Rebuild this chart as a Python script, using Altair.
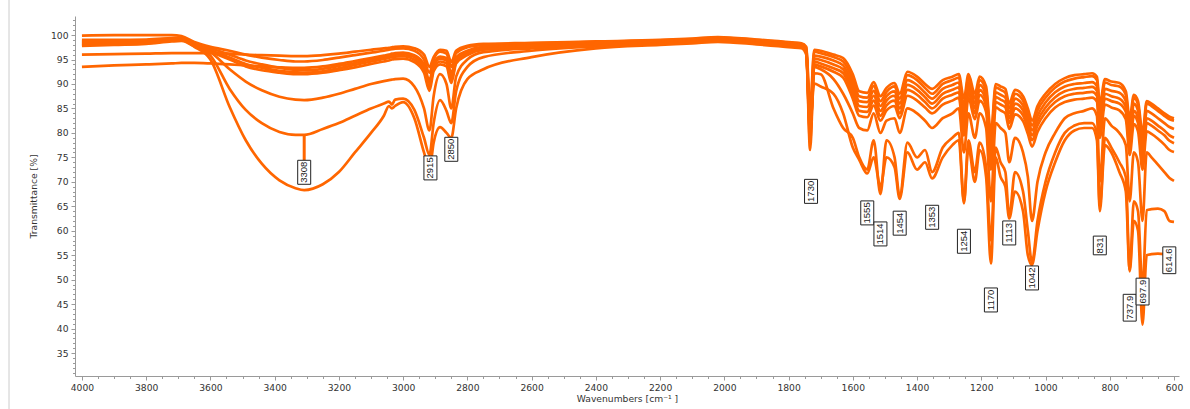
import altair as alt
import pandas as pd

# Wavenumber grid shared by all spectra (cm-1)
wn = [4000, 3900, 3800, 3720, 3690, 3650, 3600, 3540, 3490, 3440,
      3385, 3335, 3308, 3250, 3200, 3150, 3100, 3060, 3044, 3035,
      3025, 3000, 2965, 2935, 2918, 2905, 2885, 2865, 2850, 2835,
      2800, 2750, 2600, 2400, 2200, 2100, 2020, 1900, 1790, 1760,
      1745, 1733, 1720, 1700, 1660, 1630, 1600, 1580, 1555, 1535,
      1514, 1495, 1470, 1454, 1430, 1400, 1375, 1353, 1320, 1290,
      1270, 1254, 1240, 1220, 1205, 1185, 1170, 1155, 1140, 1125,
      1113, 1095, 1070, 1055, 1042, 1025, 1000, 970, 940, 910,
      880, 855, 840, 831, 815, 795, 770, 750, 738, 725,
      712, 698, 685, 670, 650, 630, 614, 600]

s1 = [96.0, 96.1, 96.2, 96.3, 96.3, 96.3, 96.3, 96.2, 96.0, 95.9,
      95.8, 95.7, 95.7, 95.9, 96.2, 96.6, 97.0, 97.3, 97.4, 97.5,
      97.6, 97.7, 97.3, 96.0, 93.5, 95.5, 97.0, 96.8, 94.5, 96.8,
      97.8, 98.2, 98.4, 98.7, 99.0, 99.3, 99.6, 99.1, 98.5, 98.3,
      97.6, 85.0, 97.0, 96.8, 96.0, 95.3, 92.0, 88.5, 88.2, 90.4,
      87.5, 89.2, 90.2, 88.0, 92.5, 91.5, 90.0, 89.0, 90.8, 91.5,
      92.0, 87.0, 92.0, 88.0, 91.5, 89.5, 80.0, 90.0, 89.5, 89.0,
      86.0, 88.8, 87.5, 85.0, 82.5, 85.5, 88.0, 90.0, 91.2, 91.8,
      92.0, 92.2, 91.5, 86.0, 91.0, 90.5, 90.2, 88.5, 83.0, 87.8,
      86.5, 80.0, 86.5, 86.0, 85.0, 84.0, 83.3, 83.0]

s2 = [99.9, 100.0, 100.0, 100.0, 99.8, 98.6, 97.6, 96.8, 96.0, 95.4,
      94.9, 94.6, 94.6, 94.9, 95.4, 95.9, 96.4, 96.8, 97.0, 97.1,
      97.2, 97.3, 96.8, 95.0, 92.3, 95.0, 96.6, 96.2, 93.5, 96.3,
      97.5, 98.0, 98.3, 98.6, 98.9, 99.2, 99.5, 99.0, 98.4, 98.2,
      97.4, 83.0, 96.6, 96.3, 95.5, 94.6, 91.0, 87.5, 87.2, 89.6,
      86.5, 88.4, 89.5, 87.0, 91.8, 90.8, 89.2, 88.0, 90.0, 90.8,
      91.3, 85.5, 91.3, 87.0, 90.8, 88.6, 78.5, 89.3, 88.8, 88.2,
      85.0, 88.0, 86.6, 84.0, 81.5, 84.6, 87.2, 89.3, 90.5, 91.1,
      91.4, 91.6, 90.8, 84.5, 90.3, 89.8, 89.5, 87.8, 81.5, 87.2,
      85.8, 78.5, 86.0, 85.5, 84.5, 83.5, 82.8, 82.5]

s3 = [93.5, 93.8, 94.0, 94.2, 94.3, 94.3, 94.2, 94.0, 93.8, 93.6,
      93.4, 93.3, 93.3, 93.6, 94.1, 94.7, 95.3, 95.8, 96.0, 96.2,
      96.3, 96.4, 95.9, 94.0, 90.8, 94.2, 95.6, 95.3, 92.2, 95.5,
      96.8, 97.6, 98.0, 98.4, 98.7, 99.0, 99.3, 98.8, 98.2, 98.0,
      97.0, 81.0, 95.8, 95.6, 94.8, 93.8, 90.0, 86.5, 86.3, 88.6,
      85.5, 87.5, 88.5, 86.0, 90.8, 89.8, 88.2, 87.0, 89.0, 89.8,
      90.3, 84.0, 90.3, 86.0, 89.8, 87.5, 77.0, 88.3, 87.8, 87.2,
      84.0, 87.0, 85.6, 83.0, 80.5, 83.5, 86.2, 88.3, 89.5, 90.0,
      90.2, 90.4, 89.6, 83.0, 89.0, 88.6, 88.2, 86.5, 80.0, 86.0,
      84.5, 77.0, 84.5, 84.0, 83.0, 82.0, 81.2, 80.8]

s4 = [99.0, 99.0, 99.1, 99.4, 99.5, 98.3, 97.3, 96.0, 94.8, 94.0,
      93.3, 92.9, 92.8, 93.1, 93.7, 94.3, 95.0, 95.5, 95.7, 95.9,
      96.0, 96.1, 95.5, 93.5, 90.2, 93.8, 95.2, 94.8, 91.5, 95.0,
      96.5, 97.4, 97.9, 98.3, 98.6, 98.9, 99.2, 98.7, 98.1, 97.9,
      96.8, 79.5, 95.2, 94.9, 94.0, 93.0, 89.0, 85.5, 85.3, 87.6,
      84.5, 86.6, 87.6, 85.0, 89.8, 88.8, 87.3, 86.0, 88.0, 88.8,
      89.3, 82.5, 89.3, 85.0, 88.8, 86.5, 75.5, 87.3, 86.8, 86.2,
      83.0, 86.0, 84.6, 82.0, 79.5, 82.5, 85.2, 87.3, 88.5, 89.0,
      89.2, 89.4, 88.6, 82.0, 88.0, 87.5, 87.0, 85.3, 78.5, 84.5,
      83.0, 75.5, 83.0, 82.5, 81.5, 80.5, 79.5, 79.0]

s5 = [98.5, 98.6, 98.7, 99.1, 99.2, 98.0, 96.9, 95.4, 94.1, 93.3,
      92.7, 92.4, 92.3, 92.6, 93.2, 93.9, 94.6, 95.1, 95.3, 95.5,
      95.6, 95.7, 95.0, 92.8, 89.4, 93.2, 94.6, 94.2, 90.8, 94.6,
      96.2, 97.2, 97.7, 98.2, 98.5, 98.8, 99.1, 98.6, 98.0, 97.8,
      96.6, 78.0, 94.6, 94.2, 93.2, 92.2, 88.0, 84.5, 84.3, 86.6,
      83.5, 85.6, 86.6, 84.0, 88.8, 87.8, 86.3, 85.0, 87.0, 87.8,
      88.3, 81.0, 88.3, 84.0, 87.8, 85.5, 74.0, 86.3, 85.8, 85.2,
      82.0, 85.0, 83.6, 81.0, 78.5, 81.5, 84.2, 86.3, 87.5, 88.0,
      88.2, 88.4, 87.6, 80.5, 87.0, 86.5, 86.0, 84.3, 77.0, 83.5,
      82.0, 74.0, 82.0, 81.5, 80.5, 79.5, 78.4, 77.9]

s6 = [98.0, 98.1, 98.3, 98.9, 99.0, 97.8, 96.6, 95.0, 93.6, 92.8,
      92.3, 92.0, 92.0, 92.3, 92.8, 93.4, 94.1, 94.6, 94.8, 95.0,
      95.1, 95.2, 94.5, 92.3, 88.6, 92.6, 94.0, 93.6, 90.2, 94.2,
      95.9, 97.0, 97.5, 98.0, 98.4, 98.7, 99.0, 98.5, 97.9, 97.7,
      96.4, 76.5, 94.0, 93.6, 92.5, 91.3, 87.0, 83.5, 83.2, 85.6,
      82.5, 84.6, 85.5, 83.0, 87.6, 86.6, 85.2, 84.0, 85.8, 86.6,
      87.2, 79.5, 87.2, 82.8, 86.6, 84.3, 72.5, 85.2, 84.6, 84.0,
      80.8, 83.8, 82.4, 79.8, 77.2, 80.2, 83.0, 85.2, 86.3, 86.8,
      87.0, 87.2, 86.4, 79.0, 85.8, 85.2, 84.6, 82.8, 75.5, 81.8,
      80.3, 72.5, 80.3, 79.8, 78.8, 77.6, 76.5, 76.1]

s7 = [98.7, 98.8, 98.9, 99.3, 99.4, 98.0, 96.5, 93.0, 90.5, 88.7,
      87.4, 86.8, 86.7, 87.2, 88.0, 89.0, 90.0, 90.6, 90.8, 90.9,
      91.0, 91.1, 89.5, 85.0, 80.5, 87.5, 92.0, 90.0, 85.0, 91.5,
      95.0, 96.5, 97.3, 97.9, 98.3, 98.6, 98.9, 98.4, 97.9, 97.7,
      96.5, 80.0, 93.5, 93.0, 91.0, 88.0, 84.0, 81.0, 80.5, 84.0,
      80.0, 82.5, 83.0, 80.0, 85.0, 84.0, 82.5, 81.0, 83.0, 84.0,
      85.0, 76.0, 84.0, 79.0, 84.0, 81.0, 66.0, 82.0, 81.0, 80.0,
      74.0, 79.0, 76.0, 71.0, 62.0, 70.0, 76.0, 80.0, 83.0, 84.0,
      84.5, 85.0, 83.5, 70.0, 83.0, 81.5, 80.0, 77.5, 66.0, 76.0,
      74.0, 62.0, 76.0, 75.0, 73.5, 72.0, 70.8, 70.2]

s8 = [98.2, 98.3, 98.5, 99.0, 99.1, 97.7, 95.8, 89.0, 84.7, 82.0,
      80.2, 79.6, 79.6, 80.8, 82.0, 83.5, 85.0, 86.0, 86.4, 85.8,
      86.8, 87.0, 84.7, 79.0, 75.5, 82.0, 86.7, 84.5, 82.0, 88.5,
      93.5, 95.5, 96.8, 97.7, 98.2, 98.5, 98.8, 98.3, 97.8, 97.5,
      96.5, 81.0, 92.2, 92.0, 85.0, 81.0, 79.0, 75.0, 72.5, 78.5,
      67.5, 78.5, 75.0, 67.0, 78.0, 75.0, 76.5, 72.0, 77.0, 79.0,
      80.0, 66.0, 78.5, 72.0, 78.0, 73.0, 58.0, 77.0, 74.0, 72.0,
      63.0, 72.0, 68.0, 60.0, 53.5, 62.0, 70.0, 76.0, 80.0, 81.5,
      82.0, 82.0, 80.0, 65.0, 79.0, 77.0, 74.0, 71.0, 52.0, 66.0,
      64.0, 48.0, 64.2, 64.4, 64.5, 64.0, 62.0, 61.8]

s9 = [97.8, 98.0, 98.2, 98.7, 98.8, 97.6, 95.0, 85.3, 78.5, 73.7,
      70.3, 68.7, 68.3, 69.5, 72.0, 76.0, 80.0, 83.5, 85.5, 85.0,
      85.5, 86.3, 83.0, 76.0, 72.5, 78.0, 81.2, 80.0, 79.0, 85.0,
      91.0, 93.0, 95.5, 97.3, 98.0, 98.3, 98.6, 98.1, 97.5, 97.3,
      96.0, 82.0, 90.1, 89.5, 88.0, 84.0, 77.0, 74.5, 71.7, 75.0,
      69.0, 75.0, 73.0, 66.5, 76.0, 72.5, 74.0, 70.7, 75.0, 77.5,
      78.5, 65.6, 77.0, 70.0, 76.5, 71.0, 53.3, 75.0, 71.0, 69.0,
      62.5, 68.0, 64.0, 55.0, 53.0, 60.0, 68.0, 74.0, 78.5, 80.5,
      81.0, 81.0, 78.5, 64.0, 77.5, 76.0, 72.0, 68.0, 51.7, 62.0,
      60.0, 40.8, 55.0, 55.2, 55.3, 55.2, 55.0, 55.0]

# Peak annotations
peak_labels = ["3308", "2915", "2850", "1730", "1555", "1514", "1454", "1353",
               "1254", "1170", "1113", "1042", "831", "737.9", "697.9", "614.6"]
peak_wn = [3308, 2915, 2850, 1730, 1555, 1514, 1454, 1353,
           1254, 1170, 1113, 1042, 831, 737.9, 697.9, 614.6]
peak_box_top = [74.4, 75.3, 79.1, 70.5, 66.1, 61.8, 64.0, 65.2,
                60.3, 48.3, 62.0, 52.8, 58.9, 47.0, 50.3, 56.7]

# leader line for the 3308 label (from curve to label box)
leader_wn = [3308]
leader_from = [79.6]
leader_to = [74.4]

series = [s1, s2, s3, s4, s5, s6, s7, s8, s9]
rows = []
for i, s in enumerate(series):
    if len(s) != len(wn):
        raise ValueError(f"series {i+1} has {len(s)} values, expected {len(wn)}")
    for w, t in zip(wn, s):
        rows.append({"wn": w, "T": t, "series": f"S{i+1}"})
df = pd.DataFrame(rows)

Y_MIN, Y_MAX = 30.3, 103.9
W, H = 1104, 360
PPU = H / (Y_MAX - Y_MIN)

lab = pd.DataFrame({"label": peak_labels, "wn": peak_wn, "top": peak_box_top})
lab["h"] = lab["label"].apply(lambda s: sum(2.8 if c == "." else 5.3 for c in s) + 2.8)
lab["bottom"] = lab["top"] - lab["h"] / PPU
lab["mid"] = (lab["top"] + lab["bottom"]) / 2

lead = pd.DataFrame({"wn": leader_wn, "y1": leader_from, "y2": leader_to})

ORANGE = "#ff6600"
FONT = "DejaVu Sans"
X_TITLE = "Wavenumbers [cm⁻¹ ]"
Y_TITLE = "Transmittance [%]"

x_scale = alt.Scale(domain=[600, 4006], reverse=True, nice=False, zero=False)
y_scale = alt.Scale(domain=[Y_MIN, Y_MAX], nice=False, zero=False)

x_axis = alt.Axis(
    values=list(range(600, 4001, 50)),
    labelExpr="datum.value % 200 === 0 ? datum.label : ''",
    format="d",
    tickSize={"condition": {"test": "datum.value % 200 === 0", "value": 4}, "value": 2.5},
    grid=False,
    domainColor="#9a9a9a",
    tickColor="#9a9a9a",
    labelColor="#333333",
    labelFont=FONT,
    labelFontSize=9.2,
    labelPadding=3,
    labelFlush=False,
    labelOverlap=False,
    title=X_TITLE,
    titleFont=FONT,
    titleFontSize=9.2,
    titleFontWeight="normal",
    titleColor="#333333",
    titlePadding=2,
)
y_axis = alt.Axis(
    values=list(range(31, 104)),
    labelExpr="(datum.value % 5 === 0 && datum.value >= 35) ? datum.label : ''",
    tickSize={"condition": {"test": "datum.value % 5 === 0", "value": 4}, "value": 2.5},
    grid=False,
    domainColor="#9a9a9a",
    tickColor="#9a9a9a",
    labelColor="#333333",
    labelFont=FONT,
    labelFontSize=9.2,
    labelPadding=3,
    labelOverlap=False,
    labelFlush=False,
    title=Y_TITLE,
    titleFont=FONT,
    titleFontSize=9.2,
    titleFontWeight="normal",
    titleColor="#333333",
    titlePadding=12,
)


def X(field):
    return alt.X(field, scale=x_scale, axis=x_axis, title=X_TITLE)


def Y(field):
    return alt.Y(field, scale=y_scale, axis=y_axis, title=Y_TITLE)


lines = alt.Chart(df).mark_line(color=ORANGE, strokeWidth=2.7, clip=True,
                                interpolate="monotone").encode(
    x=X("wn:Q"),
    y=Y("T:Q"),
    detail="series:N",
    order=alt.Order("wn:Q", sort="descending"),
)

leaders = alt.Chart(lead).mark_rule(color=ORANGE, strokeWidth=3).encode(
    x=X("wn:Q"),
    y=Y("y1:Q"),
    y2="y2:Q",
)

boxes = alt.Chart(lab).mark_bar(size=13, fill="white", stroke="#222222", strokeWidth=1).encode(
    x=X("wn:Q"),
    y=Y("top:Q"),
    y2="bottom:Q",
)

texts = alt.Chart(lab).mark_text(angle=270, font="Liberation Sans", fontSize=9.5,
                                 color="#222222", align="center", baseline="middle").encode(
    x=X("wn:Q"),
    y=Y("mid:Q"),
    text="label:N",
)

border = alt.Chart(pd.DataFrame({"k": [0]})).mark_rule(color="#cccccc", strokeWidth=1).encode(
    x=alt.value(-66), y=alt.value(-16), y2=alt.value(393)
)

chart = alt.layer(lines, leaders, boxes, texts, border).properties(
    width=W, height=H,
    padding={"left": 75, "top": 16, "right": 11, "bottom": 33},
    autosize=alt.AutoSizeParams(type="none"),
    background="white",
).configure_view(stroke=None)

chart.save("out.html", embed_options={"renderer": "svg", "actions": False})
